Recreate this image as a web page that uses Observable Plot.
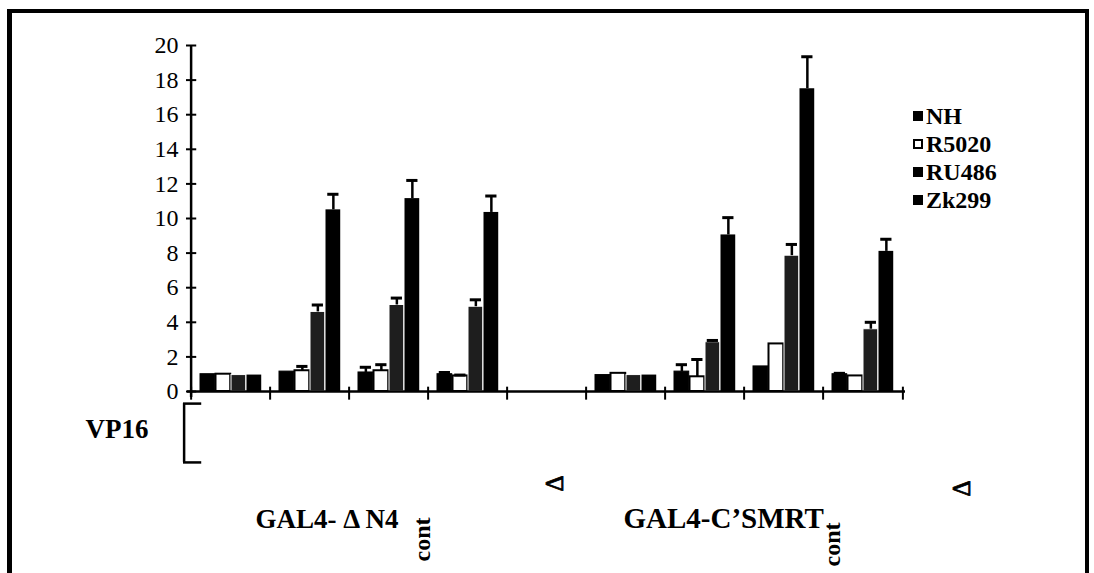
<!DOCTYPE html>
<html><head><meta charset="utf-8">
<script src="https://cdn.jsdelivr.net/npm/d3@7"></script>
<script src="https://cdn.jsdelivr.net/npm/@observablehq/plot@0.6"></script>
<style>
body{margin:0;background:#fff;}
#wrap{position:relative;width:1094px;height:573px;overflow:hidden;background:#fff;}
#chart{position:absolute;left:0;top:0;}
#frame{position:absolute;left:7px;top:9px;width:1082px;height:620px;border-top:4px solid #000;border-left:5px solid #000;border-right:4px solid #000;box-sizing:border-box;pointer-events:none;}
#legend{position:absolute;left:913px;top:102px;font-family:"Liberation Serif",serif;font-weight:bold;font-size:24px;color:#000;}
.row{display:flex;align-items:center;height:28px;}
.sw{width:10px;height:10px;margin-right:3px;box-sizing:border-box;border:2px solid #000;}
</style></head>
<body><div id="wrap"><div id="chart"></div><div id="frame"></div><div id="legend"></div></div>
<script>
// ---- data ----
const categories = ["ΔN4 a","ΔN4 b","ΔN4 c","ΔN4 d","gap","C'SMRT a","C'SMRT b","C'SMRT c","C'SMRT d"];
const series = ["NH","R5020","RU486","Zk299"];
const nh       = [1.0, 1.15, 1.1, 1.0, null, 0.95, 1.15, 1.45, 1.0];
const r5020    = [1.0, 1.2, 1.2, 0.9, null, 1.05, 0.85, 2.75, 0.9];
const ru486    = [0.95, 4.6, 5.0, 4.9, null, 0.95, 2.85, 7.85, 3.6];
const zk299    = [0.95, 10.5, 11.15, 10.35, null, 0.95, 9.05, 17.5, 8.1];
const nhErr    = [0, 0, 0.3, 0.1, null, 0, 0.4, 0, 0.05];
const r5020Err = [0, 0.25, 0.35, 0.05, null, 0, 1.0, 0, 0];
const ru486Err = [0, 0.4, 0.4, 0.4, null, 0, 0.1, 0.65, 0.4];
const zk299Err = [0, 0.9, 1.05, 0.95, null, 0, 1.0, 1.85, 0.7];
const yTicks = [0,2,4,6,8,10,12,14,16,18,20];
const bracketLabel = "VP16";
const groupLabels = ["GAL4- Δ N4", "GAL4-C’SMRT"];
const contLabel = "cont";
const deltaLabel = "Δ";

// ---- layout / style ----
const W = 1094, H = 573, mL = 187, mR = 189, mT = 45, mB = 182;
const bw = (W - mL - mR) / categories.length;
const barOff = 9, barW = 15.5;
const fills = ["#000", "#fff", "#1e1e1e", "#000"];
const strokes = ["#000", "#000", "#fff", "none"];
const values = [nh, r5020, ru486, zk299];
const errs = [nhErr, r5020Err, ru486Err, zk299Err];
const FONT = "Liberation Serif";

const rows = [];
series.forEach((s, k) => categories.forEach((c, i) => {
  if (values[k][i] != null) rows.push({category: c, series: s, k, value: values[k][i], err: errs[k][i]});
}));

const marks = [];
series.forEach((s, k) => {
  const data = rows.filter(r => r.k === k);
  marks.push(Plot.barY(data, {
    x: "category", y: "value", fill: fills[k], stroke: strokes[k], strokeWidth: k === 1 ? 2 : 1,
    insetLeft: barOff + k * barW, insetRight: bw - barOff - (k + 1) * barW
  }));
});
series.forEach((s, k) => {
  const data = rows.filter(r => r.k === k && r.err > 0);
  const c = barOff + (k + 0.5) * barW;
  marks.push(Plot.ruleX(data, {x: "category", y1: "value", y2: d => d.value + d.err, dx: -bw / 2 + c, strokeWidth: 2.5}));
  marks.push(Plot.tickY(data, {x: "category", y: d => d.value + d.err, insetLeft: c - 6, insetRight: bw - c - 6, strokeWidth: 3}));
});
// axes
marks.push(Plot.ruleY([0], {strokeWidth: 2.5}));
marks.push(Plot.ruleX([categories[0]], {x: d => d, y1: -0.35, y2: 20, dx: -bw / 2, strokeWidth: 2.5}));
marks.push(Plot.tickY(yTicks, {x: () => categories[0], y: d => d, insetLeft: -5, insetRight: bw - 6, strokeWidth: 2}));
marks.push(Plot.ruleX(categories, {x: d => d, y1: 0.25, y2: -0.5, dx: -bw / 2, strokeWidth: 2}));
marks.push(Plot.ruleX([categories[categories.length - 1]], {x: d => d, y1: 0.25, y2: -0.5, dx: bw / 2, strokeWidth: 2}));
// VP16 bracket
marks.push(Plot.ruleX([categories[0]], {x: d => d, y1: -0.7, y2: -4.1, dx: -bw / 2 - 7, strokeWidth: 2.5}));
marks.push(Plot.tickY([-0.7, -4.1], {x: () => categories[0], y: d => d, insetLeft: -8, insetRight: bw - 11, strokeWidth: 2.5}));
// labels
const txt = {fontFamily: FONT, fontWeight: "bold", frameAnchor: "bottom-left", fill: "#000", text: d => d};
marks.push(Plot.text([bracketLabel], {...txt, textAnchor: "start", dx: 85 - mL, dy: 46, fontSize: 27}));
marks.push(Plot.text([groupLabels[0]], {...txt, textAnchor: "start", dx: 255 - mL, dy: 136, fontSize: 27}));
marks.push(Plot.text([groupLabels[1]], {...txt, textAnchor: "start", dx: 623 - mL, dy: 136, fontSize: 29}));
marks.push(Plot.text([contLabel], {...txt, rotate: -90, textAnchor: "middle", dx: 429 - mL, dy: 539 - 391, fontSize: 24}));
marks.push(Plot.text([contLabel], {...txt, rotate: -90, textAnchor: "middle", dx: 839 - mL, dy: 544 - 391, fontSize: 24}));
marks.push(Plot.text([deltaLabel], {...txt, rotate: -90, textAnchor: "middle", dx: 562 - mL, dy: 483 - 391, fontSize: 25, fontWeight: "normal", stroke: "#000", strokeWidth: 0.8}));
marks.push(Plot.text([deltaLabel], {...txt, rotate: -90, textAnchor: "middle", dx: 969 - mL, dy: 488 - 391, fontSize: 25, fontWeight: "normal", stroke: "#000", strokeWidth: 0.8}));

const chart = Plot.plot({
  width: W, height: H, marginLeft: mL, marginRight: mR, marginTop: mT, marginBottom: mB,
  style: {fontFamily: FONT, fontSize: "24px", color: "#000", background: "transparent", overflow: "visible"},
  x: {type: "band", domain: categories, padding: 0, axis: null},
  y: {domain: [0, 20], ticks: yTicks, tickSize: 0, tickPadding: 9, label: null, tickFormat: d => d},
  marks
});
document.getElementById("chart").appendChild(chart);

const legend = document.getElementById("legend");
series.forEach((s, k) => {
  const row = document.createElement("div"); row.className = "row";
  const sw = document.createElement("div"); sw.className = "sw";
  sw.style.background = k === 1 ? "#fff" : "#000";
  const t = document.createElement("span"); t.textContent = s;
  row.appendChild(sw); row.appendChild(t); legend.appendChild(row);
});
</script>
</body></html>
